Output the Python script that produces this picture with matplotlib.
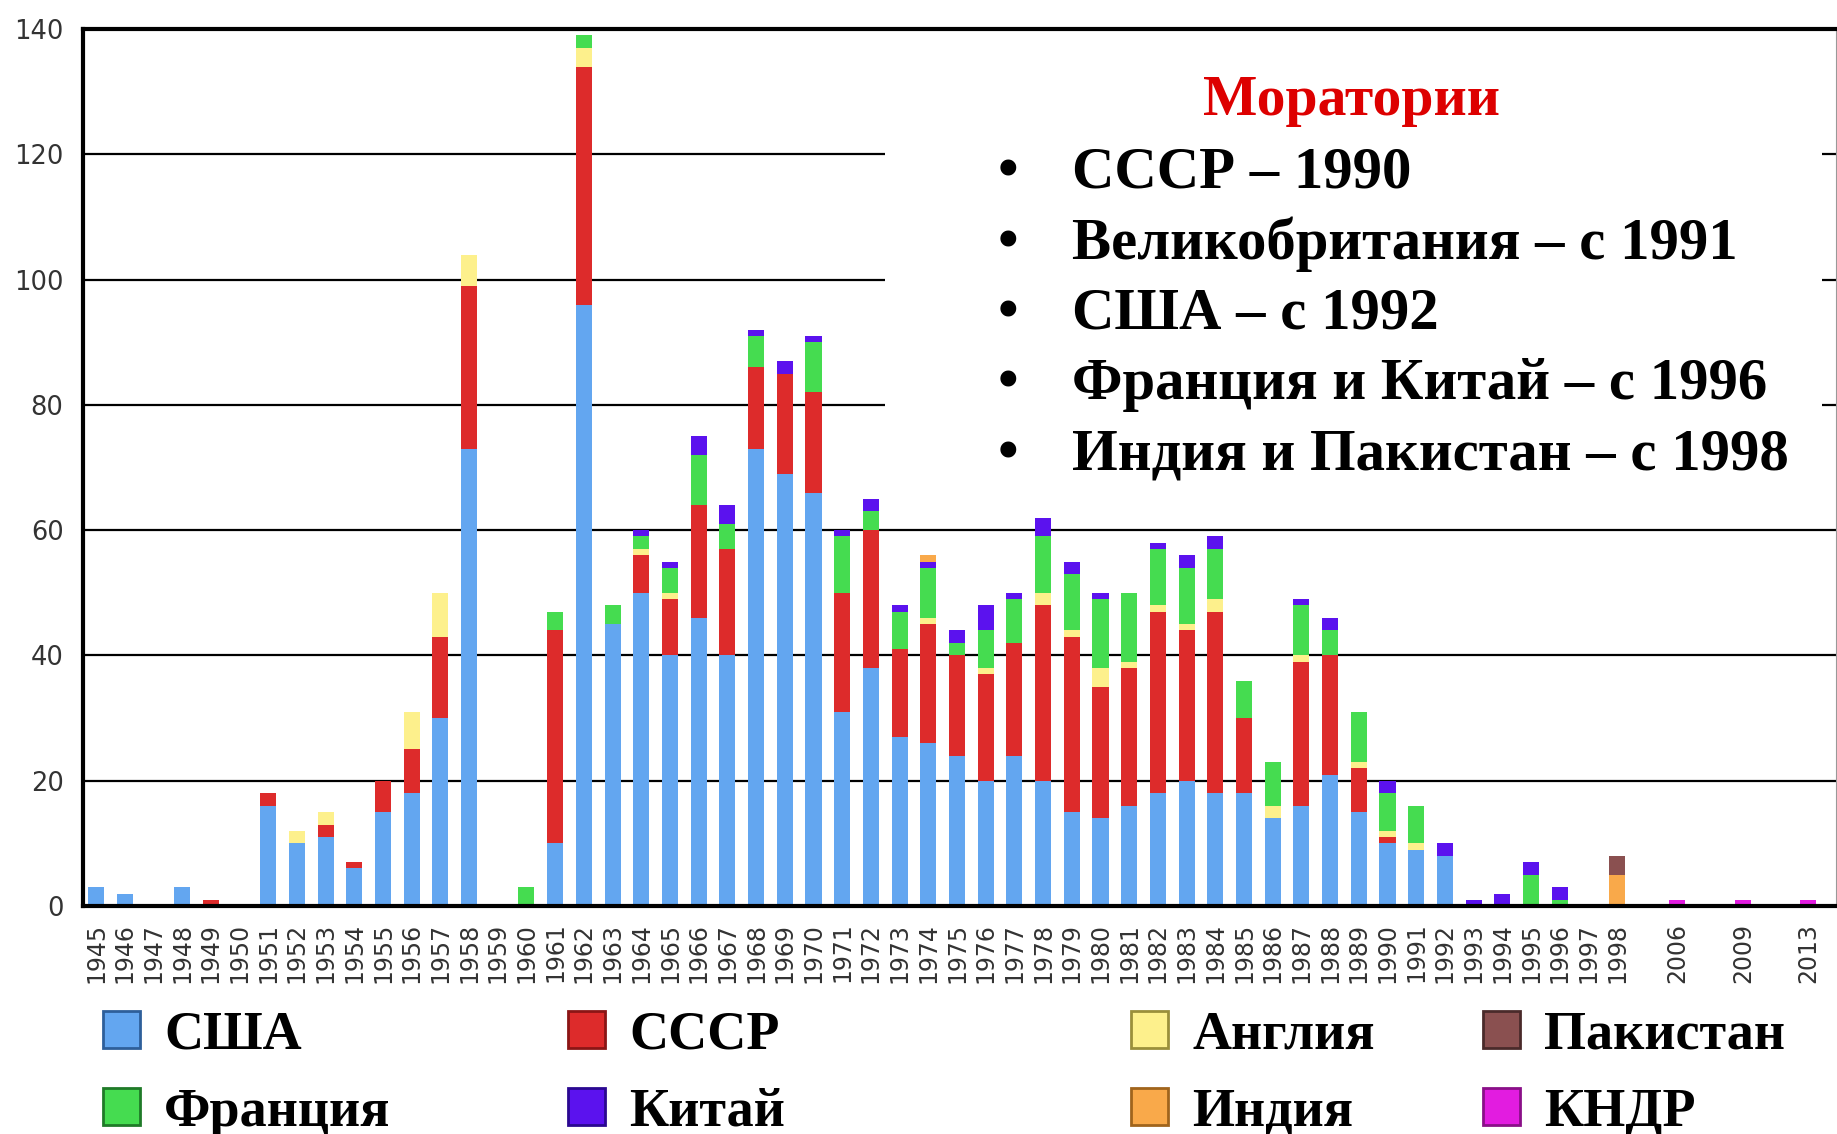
import numpy as np
import matplotlib
matplotlib.use("Agg")
import matplotlib.pyplot as plt
from matplotlib.patches import Patch, Rectangle

# years on the x axis
years = list(range(1945, 1999)) + [2006, 2009, 2013]

# tests per year
usa = [3, 2, 0, 3, 0, 0, 16, 10, 11, 6, 15, 18, 30, 73, 0, 0, 10, 96, 45, 50,
       40, 46, 40, 73, 69, 66, 31, 38, 27, 26, 24, 20, 24, 20, 15, 14, 16, 18,
       20, 18, 18, 14, 16, 21, 15, 10, 9, 8, 0, 0, 0, 0, 0, 0, 0, 0, 0]
ussr = [0, 0, 0, 0, 1, 0, 2, 0, 2, 1, 5, 7, 13, 26, 0, 0, 34, 38, 0, 6,
        9, 18, 17, 13, 16, 16, 19, 22, 14, 19, 16, 17, 18, 28, 28, 21, 22, 29,
        24, 29, 12, 0, 23, 19, 7, 1, 0, 0, 0, 0, 0, 0, 0, 0, 0, 0, 0]
uk = [0, 0, 0, 0, 0, 0, 0, 2, 2, 0, 0, 6, 7, 5, 0, 0, 0, 3, 0, 1,
      1, 0, 0, 0, 0, 0, 0, 0, 0, 1, 0, 1, 0, 2, 1, 3, 1, 1,
      1, 2, 0, 2, 1, 0, 1, 1, 1, 0, 0, 0, 0, 0, 0, 0, 0, 0, 0]
france = [0, 0, 0, 0, 0, 0, 0, 0, 0, 0, 0, 0, 0, 0, 0, 3, 3, 2, 3, 2,
          4, 8, 4, 5, 0, 8, 9, 3, 6, 8, 2, 6, 7, 9, 9, 11, 11, 9,
          9, 8, 6, 7, 8, 4, 8, 6, 6, 0, 0, 0, 5, 1, 0, 0, 0, 0, 0]
china = [0, 0, 0, 0, 0, 0, 0, 0, 0, 0, 0, 0, 0, 0, 0, 0, 0, 0, 0, 1,
         1, 3, 3, 1, 2, 1, 1, 2, 1, 1, 2, 4, 1, 3, 2, 1, 0, 1,
         2, 2, 0, 0, 1, 2, 0, 2, 0, 2, 1, 2, 2, 2, 0, 0, 0, 0, 0]
india = [0] * 29 + [1] + [0] * 23 + [5, 0, 0, 0]
pakistan = [0] * 53 + [3, 0, 0, 0]
dprk = [0] * 54 + [1, 1, 1]

series = [
    ("США", usa, "#63a6f0"),
    ("СССР", ussr, "#dd2b2b"),
    ("Англия", uk, "#fdf08c"),
    ("Франция", france, "#45dc50"),
    ("Китай", china, "#5b12ee"),
    ("Индия", india, "#f9a94a"),
    ("Пакистан", pakistan, "#8a5050"),
    ("КНДР", dprk, "#e21ce0"),
]
edge_colors = ["#2e5f9a", "#8a1515", "#9a8f3a", "#1f7a28",
               "#2a0890", "#a0641c", "#4a2a2a", "#8a0f88"]

moratoria_title = "Моратории"
moratoria = ["СССР – 1990", "Великобритания – с 1991", "США – с 1992",
             "Франция и Китай – с 1996", "Индия и Пакистан – с 1998"]

# x positions: consecutive years, then a wider gap for the last three
pos = np.arange(len(years), dtype=float)
pos[54:] = [55.1, 57.4, 59.65]

fig = plt.figure(figsize=(18.37, 11.34), dpi=100)
ax = fig.add_axes([0.0452, 0.201, 0.9543, 0.7734])

bottom = np.zeros(len(years))
for name, vals, col in series:
    vals = np.array(vals, dtype=float)
    ax.bar(pos, vals, width=0.56, bottom=bottom, color=col, zorder=2)
    bottom += vals

ax.set_xlim(-0.45, 60.63)
ax.set_ylim(0, 140)
ax.set_yticks(range(0, 141, 20))
ax.set_xticks(pos)
ax.set_xticklabels([str(y) for y in years], rotation=90)
ax.tick_params(axis="both", length=0, labelcolor="#333333")
ax.tick_params(axis="y", pad=14, labelsize=18.5)
ax.tick_params(axis="x", pad=12, labelsize=17)

ax.set_axisbelow(True)
ax.yaxis.grid(True, color="black", linewidth=1.6)
for s in ["left", "top", "bottom"]:
    ax.spines[s].set_linewidth(3)
    ax.spines[s].set_color("black")
ax.spines["right"].set_linewidth(0.8)
ax.spines["right"].set_color("#999999")

# white panel behind the moratoria list
ax.add_patch(Rectangle((0.4575, 0.497), 0.5345, 0.49, transform=ax.transAxes,
                       facecolor="white", edgecolor="none", zorder=0.8))

serif = {"family": "Liberation Serif", "weight": "bold"}
W, H = 1837.0, 1134.0
fig.text(1351 / W, 1 - 101 / H, moratoria_title, color="#dd0000", fontsize=41.5,
         ha="center", va="center", **serif)
for i, line in enumerate(moratoria):
    yy = 1 - (174 + 70.3 * i) / H
    fig.text(1008 / W, yy, "•", fontsize=42.3, ha="center", va="center", **serif)
    fig.text(1072 / W, yy, line, fontsize=42.3, ha="left", va="center", **serif)

# legend in four columns of two
handles = [Patch(facecolor=c, edgecolor=e, linewidth=2)
           for (_, _, c), e in zip(series, edge_colors)]
labels = [s[0] for s in series]
col_x = [103, 568, 1131, 1483]
col_idx = [[0, 3], [1, 4], [2, 5], [6, 7]]
for cx, idx in zip(col_x, col_idx):
    fig.legend([handles[i] for i in idx], [labels[i] for i in idx],
               loc="center left", bbox_to_anchor=(cx / W, 1 - 1074 / H),
               frameon=False, prop={"family": "Liberation Serif", "weight": "bold", "size": 39},
               handlelength=0.68, handleheight=0.68, handletextpad=0.45,
               labelspacing=0.5, borderpad=0, borderaxespad=0)

fig.savefig("out.png", dpi=100)
